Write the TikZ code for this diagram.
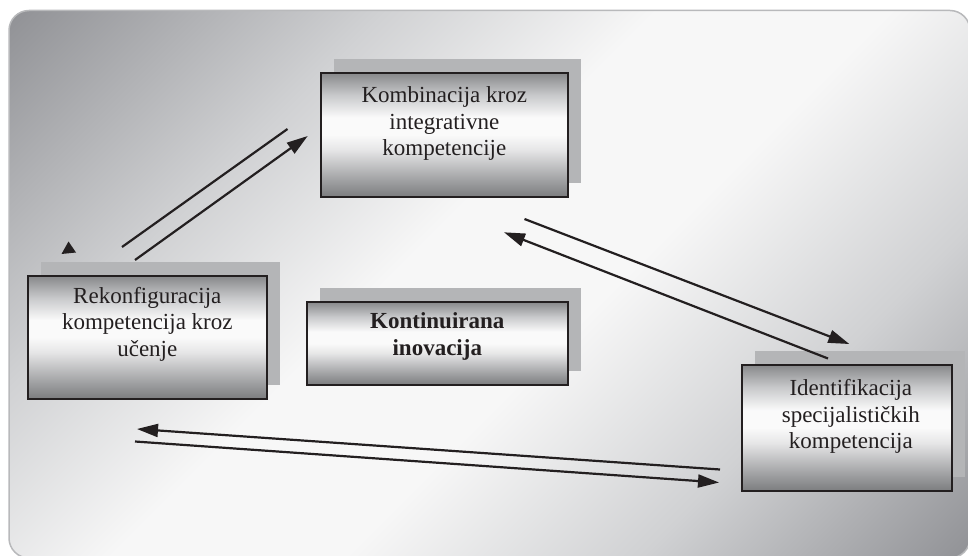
\documentclass[tikz,border=0pt]{standalone}
\usepackage{fontspec}
\setmainfont{Liberation Serif}
\usetikzlibrary{arrows.meta,shadows}

\definecolor{ink}{HTML}{231F20}
\definecolor{frameline}{HTML}{B8B9BB}
\definecolor{bgdark}{HTML}{929397}
\definecolor{bgmid}{HTML}{D0D1D3}
\definecolor{bglight}{HTML}{F7F7F7}
\definecolor{boxlow}{HTML}{7C7D7F}
\definecolor{boxhigh}{HTML}{87888A}
\definecolor{boxgrey}{HTML}{9C9D9F}
\definecolor{boxsoft}{HTML}{C8C9CB}
\definecolor{boxpale}{HTML}{E6E6E7}
\definecolor{boxwhite}{HTML}{FAFAFA}
\definecolor{shadowgrey}{HTML}{B4B5B7}

% diagonal panel gradient: dark corners, light band across the middle
\pgfdeclarehorizontalshading{panelshade}{100bp}{%
  color(0bp)=(bgdark); color(15bp)=(bgdark); color(32bp)=(bgmid);
  color(45bp)=(bglight); color(56bp)=(bglight); color(70bp)=(bgmid);
  color(85bp)=(bgdark); color(100bp)=(bgdark)}

% metallic box fill: dark top and bottom, bright band above the middle
\pgfdeclareverticalshading{boxshade}{100bp}{%
  color(0bp)=(boxlow); color(25bp)=(boxlow); color(31bp)=(boxgrey);
  color(44bp)=(boxpale); color(50bp)=(boxwhite); color(57bp)=(boxwhite);
  color(66bp)=(boxsoft); color(75bp)=(boxhigh); color(100bp)=(boxhigh)}

\tikzset{
  panel/.style={draw=frameline, line width=1.5pt, rounded corners=20pt,
    shading=panelshade, shading angle=-45},
  card/.style={rectangle, draw=ink, line width=2pt, inner sep=0pt,
    shading=boxshade,
    general shadow={fill=shadowgrey, shadow xshift=13.5pt, shadow yshift=14pt}},
  cardtext/.style={align=center, inner sep=0pt, text=ink,
    font=\fontsize{23pt}{26.5pt}\selectfont},
  link/.style={draw=ink, line width=2.2pt},
  linkarrow/.style={link, -{Triangle[length=21pt,width=13pt]}},
}

\begin{document}
\begin{tikzpicture}[x=1pt,y=-1pt]
  \useasboundingbox (0,0) rectangle (968,556);

  % background panel
  \path[panel] (9,10.5) rectangle (970,558);

  % boxes
  \node[card, minimum width=247pt, minimum height=124pt] (comb) at (444.3,134.8) {};
  \node[card, minimum width=239pt, minimum height=123pt] (rekon) at (147.3,337.3) {};
  \node[card, minimum width=261pt, minimum height=83pt] (kont) at (437.3,343.3) {};
  \node[card, minimum width=210pt, minimum height=126pt] (ident) at (846.8,427.8) {};

  % box texts
  \node[cardtext] (combtext) at ([yshift=11pt]comb.center)
    {Kombinacija kroz\\integrativne\\kompetencije};
  \node[cardtext] (rekontext) at ([yshift=13pt]rekon.center)
    {Rekonfiguracija\\kompetencija kroz\\učenje};
  \node[cardtext, font=\fontsize{23pt}{26.5pt}\selectfont\bfseries] (konttext)
    at ([yshift=7pt]kont.center) {Kontinuirana\\inovacija};
  \node[cardtext] (identtext) at ([xshift=4pt,yshift=11pt]ident.center)
    {Identifikacija\\specijalističkih\\kompetencija};

  % connector end points
  \coordinate (a1) at (122,247);
  \coordinate (a2) at (287.5,129);
  \coordinate (b1) at (135,260);
  \coordinate (b2) at (307.7,136);
  \coordinate (c1) at (524.5,219);
  \coordinate (c2) at (849.3,344);
  \coordinate (d1) at (828,358.5);
  \coordinate (d2) at (504,232.3);
  \coordinate (e1) at (720,469.5);
  \coordinate (e2) at (137,429);
  \coordinate (f1) at (135,441.5);
  \coordinate (f2) at (719,482.5);

  % connectors
  \draw[link] (a1) -- (a2);
  \draw[linkarrow] (b1) -- (b2);
  \draw[linkarrow] (c1) -- (c2);
  \draw[linkarrow] (d1) -- (d2);
  \draw[linkarrow] (e1) -- (e2);
  \draw[linkarrow] (f1) -- (f2);

  % loose arrow head near the left box
  \fill[ink] (68.5,241.5) -- (61.5,254) -- (76,252.5) -- cycle;
\end{tikzpicture}
\end{document}
